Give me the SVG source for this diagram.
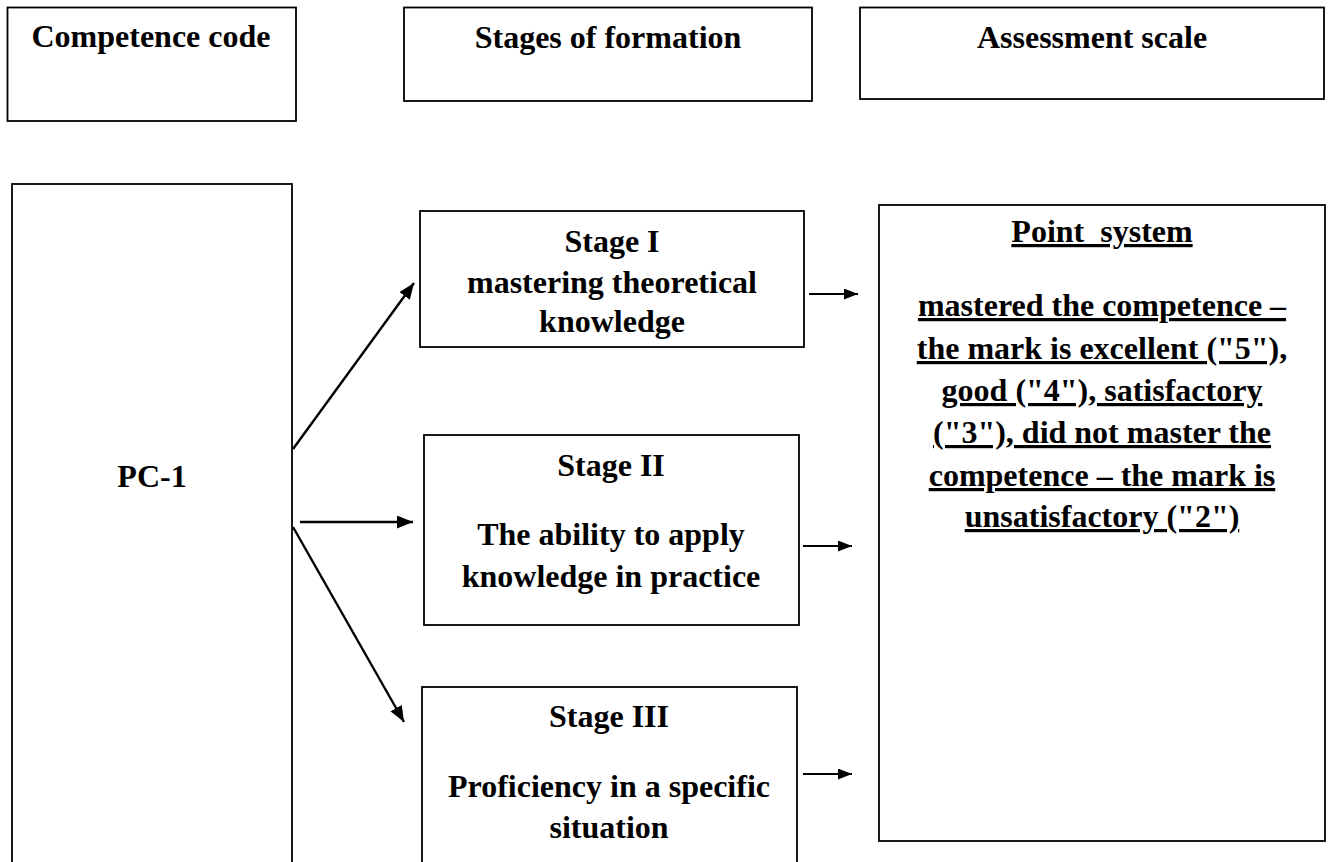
<svg xmlns="http://www.w3.org/2000/svg" width="1333" height="862" viewBox="0 0 1333 862">
<style>
.box{fill:#fff;stroke:#000;stroke-width:1.8}
.t{font-family:"Liberation Serif","Times New Roman",serif;font-weight:bold;font-size:32px;fill:#000;text-anchor:middle}
.u{text-decoration:underline;text-decoration-thickness:3px;text-underline-offset:2px}
.c{stroke:#000;stroke-width:2.4;fill:none}
.c2{stroke:#000;stroke-width:1.8;fill:none}
</style>
<defs>
<marker id="ah" markerUnits="userSpaceOnUse" markerWidth="18" markerHeight="14" refX="16" refY="6.5" orient="auto">
<path d="M0,0 L16,6.5 L0,13 z" fill="#000"/>
</marker>
<marker id="ah2" markerUnits="userSpaceOnUse" markerWidth="16" markerHeight="12" refX="14" refY="5.5" orient="auto">
<path d="M0,0 L14,5.5 L0,11 z" fill="#000"/>
</marker>
</defs>
<rect width="1333" height="862" fill="#fff"/>
<g id="hdr-code">
<rect class="box" x="7.5" y="7.5" width="288.5" height="113.5"/>
<text class="t" x="151" y="47">Competence code</text>
</g>
<g id="hdr-stages">
<rect class="box" x="404" y="7.5" width="408" height="93.5"/>
<text class="t" x="608" y="48">Stages of formation</text>
</g>
<g id="hdr-scale">
<rect class="box" x="860" y="7.5" width="464" height="91.5"/>
<text class="t" x="1092" y="48">Assessment scale</text>
</g>
<g id="pc1">
<rect class="box" x="12" y="184" width="280" height="700"/>
<text class="t" x="152" y="487">PC-1</text>
</g>
<g id="stage1">
<rect class="box" x="420" y="211" width="384" height="136"/>
<text class="t" x="612" y="252">Stage I</text>
<text class="t" x="612" y="293">mastering theoretical</text>
<text class="t" x="612" y="332">knowledge</text>
</g>
<g id="stage2">
<rect class="box" x="424" y="435" width="375" height="190"/>
<text class="t" x="611" y="476">Stage II</text>
<text class="t" x="611" y="545">The ability to apply</text>
<text class="t" x="611" y="587">knowledge in practice</text>
</g>
<g id="stage3">
<rect class="box" x="422" y="687" width="375" height="200"/>
<text class="t" x="609" y="727">Stage III</text>
<text class="t" x="609" y="797">Proficiency in a specific</text>
<text class="t" x="609" y="838">situation</text>
</g>
<g id="points">
<rect class="box" x="879" y="205" width="446" height="636"/>
<text class="t u" x="1102" y="242" style="word-spacing:8px">Point system</text>
<text class="t u" x="1102" y="316">mastered the competence –</text>
<text class="t u" x="1102" y="359">the mark is excellent ("5"),</text>
<text class="t u" x="1102" y="401">good ("4"), satisfactory</text>
<text class="t u" x="1102" y="443">("3"), did not master the</text>
<text class="t u" x="1102" y="486">competence – the mark is</text>
<text class="t u" x="1102" y="527">unsatisfactory ("2")</text>
</g>
<g id="connectors">
<line class="c" x1="293" y1="449" x2="414" y2="283" marker-end="url(#ah)"/>
<line class="c" x1="300" y1="522" x2="413" y2="522" marker-end="url(#ah)"/>
<line class="c" x1="293" y1="527" x2="404" y2="722" marker-end="url(#ah)"/>
<line class="c2" x1="809" y1="294" x2="858" y2="294" marker-end="url(#ah2)"/>
<line class="c2" x1="803" y1="546" x2="852" y2="546" marker-end="url(#ah2)"/>
<line class="c2" x1="803" y1="774" x2="852" y2="774" marker-end="url(#ah2)"/>
</g>
</svg>
